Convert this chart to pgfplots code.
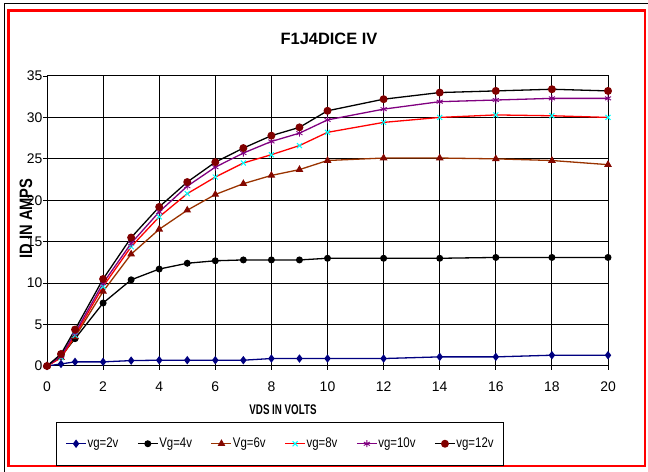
\documentclass[border=0pt]{standalone}
\usepackage{fontspec}
\setmainfont{Liberation Sans}
\newfontfamily\narrowfont{Liberation Sans}[FakeStretch=0.82]
\newfontfamily\xnarrowfont{Liberation Sans}[FakeStretch=0.7]
\usepackage{pgfplots}
\pgfplotsset{compat=1.18}

\definecolor{navyc}{RGB}{0,0,128}
\definecolor{brownc}{RGB}{153,51,0}
\definecolor{darkredc}{RGB}{128,0,0}
\definecolor{purplec}{RGB}{128,0,128}
\definecolor{cyanc}{RGB}{0,255,255}

\begin{document}
\begin{tikzpicture}
\begin{scope}[x=1bp,y=1bp]
\path[use as bounding box] (0,0) rectangle (648,472);
% window edge and red chart frame
\draw[black, line width=0.9bp] (4,-10) -- (4,469) -- (660,469);
\draw[red, line width=2.6bp] (8.5,461.5) rectangle (645,6);

% plot-area grid (axis box is 47..608 x 106..396)
\foreach \i in {1,...,10}
    \draw[black, line width=1bp] ({47+56.1*\i},106) -- ({47+56.1*\i},396);
\foreach \j in {1,...,7}
    \draw[black, line width=1bp] (47,{106+290/7*\j}) -- (608,{106+290/7*\j});

% title and axis labels
\node[font=\fontsize{16.5}{16.5}\selectfont\bfseries] at (329,433) {F1J4DICE IV};
\node[font=\fontsize{14}{14}\selectfont\bfseries\xnarrowfont] at (283,62) {VDS IN VOLTS};
\node[font=\fontsize{18}{18}\selectfont\bfseries\narrowfont, rotate=90] at (26,253.5) {ID IN AMPS};
\end{scope}

\begin{axis}[
    at={(47bp,106bp)}, anchor=south west,
    scale only axis,
    width=561bp, height=290bp,
    xmin=0, xmax=20, ymin=0, ymax=35,
    xtick={0,2,...,20}, ytick={0,5,...,35},
    tick pos=left,
    tick align=outside,
    major tick length=4bp,
    every tick/.style={black, line width=0.9bp},
    grid=major,
    major grid style={draw=black, line width=1bp},
    axis line style={black, line width=1bp},
    /pgf/number format/assume math mode=true,
    tick label style={font=\fontsize{14}{14}\selectfont},
    xticklabel style={yshift=-8bp},
    yticklabel style={inner xsep=0.5bp},
    legend columns=6,
    legend cell align=left,
    legend style={
        at={(0.016,-0.192)}, anchor=north west,
        draw=black, line width=0.9bp,
        inner xsep=9bp, inner ysep=13bp,
        font=\fontsize{14}{14}\selectfont\narrowfont,
        nodes={inner xsep=0.8bp, inner ysep=3bp},
        /tikz/every odd column/.append style={column sep=0bp},
        /tikz/every even column/.append style={column sep=18bp},
    },
    legend image code/.code={
        \draw[mark repeat=2, mark phase=2, #1]
            plot coordinates {(0bp,0bp) (10bp,0bp) (20bp,0bp)};
    },
]

\addplot[navyc, line width=1.3bp, mark=diamond*, mark size=3.2bp,
    mark options={fill=navyc, draw=navyc}] coordinates {
    (0,0) (0.5,0.25) (1,0.5) (2,0.5) (3,0.65) (4,0.7) (5,0.7) (6,0.7) (7,0.7)
    (8,0.9) (9,0.9) (10,0.9) (12,0.9) (14,1.1) (16,1.1) (18,1.3) (20,1.3)
};
\addplot[black, line width=1.3bp, mark=*, mark size=2.8bp,
    mark options={fill=black}] coordinates {
    (0,0) (0.5,1.2) (1,3.3) (2,7.6) (3,10.4) (4,11.7) (5,12.4) (6,12.7) (7,12.8)
    (8,12.8) (9,12.8) (10,13.0) (12,13.0) (14,13.0) (16,13.1) (18,13.1) (20,13.1)
};
\addplot[brownc, line width=1.3bp, mark=triangle*, mark size=3.2bp,
    mark options={fill=darkredc!85!brownc, draw=darkredc!85!brownc}] coordinates {
    (0,0) (0.5,1.0) (1,3.5) (2,9.0) (3,13.5) (4,16.5) (5,18.8) (6,20.7) (7,22.0)
    (8,23.0) (9,23.7) (10,24.8) (12,25.1) (14,25.1) (16,25.0) (18,24.8) (20,24.3)
};
\addplot[red, line width=1.3bp, mark=x, mark size=3.5bp,
    mark options={cyanc, line width=1bp}] coordinates {
    (0,0) (0.5,1.0) (1,3.7) (2,9.6) (3,14.4) (4,18.0) (5,20.8) (6,22.8) (7,24.5)
    (8,25.5) (9,26.6) (10,28.2) (12,29.4) (14,30.0) (16,30.3) (18,30.2) (20,30.0)
};
\addplot[purplec, line width=1.3bp, mark=asterisk, mark size=3.5bp,
    mark options={purplec, line width=0.9bp}] coordinates {
    (0,0) (0.5,1.2) (1,4.0) (2,10.0) (3,14.8) (4,18.6) (5,21.7) (6,24.0) (7,25.7)
    (8,27.1) (9,28.1) (10,29.7) (12,31.0) (14,31.9) (16,32.1) (18,32.3) (20,32.3)
};
\addplot[black, line width=1.3bp, mark=*, mark size=3.3bp,
    mark options={fill=darkredc, draw=darkredc}] coordinates {
    (0,0) (0.5,1.45) (1,4.4) (2,10.5) (3,15.5) (4,19.2) (5,22.2) (6,24.6) (7,26.3)
    (8,27.8) (9,28.8) (10,30.8) (12,32.2) (14,33.0) (16,33.2) (18,33.4) (20,33.2)
};

\legend{vg=2v, Vg=4v, Vg=6v, vg=8v, vg=10v, vg=12v}
\end{axis}
\end{tikzpicture}
\end{document}
